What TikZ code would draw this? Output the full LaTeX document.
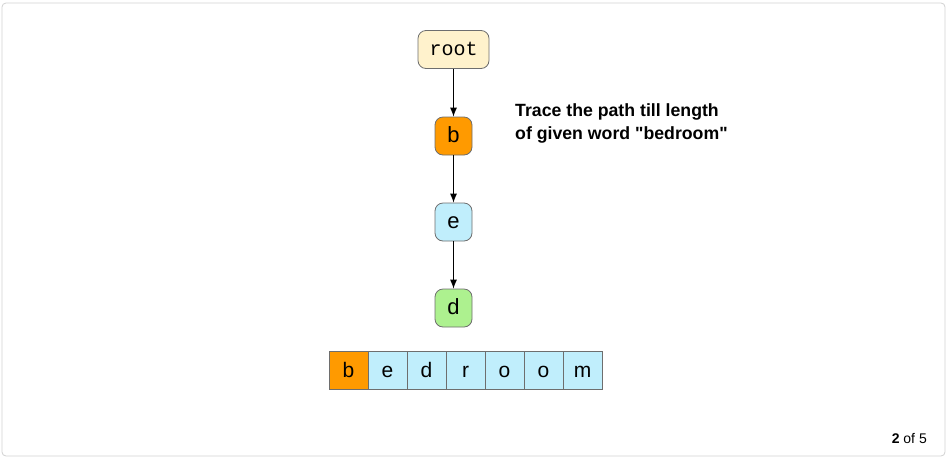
\documentclass[tikz,border=0pt]{standalone}
\usepackage{fontspec}
\setmainfont{Liberation Sans}
\setmonofont{Liberation Mono}
\usepackage{xcolor}
\usetikzlibrary{arrows.meta}

\definecolor{rootcream}{HTML}{FFF2CC}
\definecolor{hitorange}{HTML}{FF9A00}
\definecolor{triblue}{HTML}{C0EEFC}
\definecolor{trigreen}{HTML}{ADF18F}
\definecolor{edgegray}{HTML}{6E6E6E}

\tikzset{
    trienode/.style={draw=edgegray, line width=0.8pt, rounded corners=8pt,
        minimum width=37pt, minimum height=38pt, inner sep=0pt,
        text height=14pt, text depth=2pt,
        font=\fontsize{22}{26}\selectfont},
    cell/.style={draw=edgegray, line width=0.9pt, minimum width=39pt,
        minimum height=38pt, inner sep=0pt, fill=triblue,
        text height=15pt, text depth=1pt,
        font=\fontsize{21}{25}\selectfont},
    link/.style={-{Latex[length=9pt,width=7pt]}, line width=0.9pt}
}

\begin{document}
\begin{tikzpicture}[x=1pt, y=-1pt]
    \useasboundingbox (0,0) rectangle (948,459);
    % Frame
    \draw[black!18, line width=0.8pt, rounded corners=4pt] (2,3) rectangle (945,456);

    % Trie path
    \node[trienode, fill=rootcream, minimum width=71pt,
        font=\ttfamily\fontsize{20}{24}\selectfont] (root) at (453.5,49.5) {root};
    \node[trienode, fill=hitorange] (nb) at (453.5,136) {b};
    \node[trienode, fill=triblue] (ne) at (453.5,222) {e};
    \node[trienode, fill=trigreen] (nd) at (453.5,308) {d};

    \draw[link] (root) -- (nb);
    \draw[link] (nb) -- (ne);
    \draw[link] (ne) -- (nd);

    % Hint text
    \node[anchor=north west, align=left, inner sep=0pt,
        font=\bfseries\fontsize{17.7}{23.5}\selectfont] (hint) at (515,103)
        {Trace the path till length\\of given word \textquotedbl bedroom\textquotedbl};

    % Word cells
    \node[cell, fill=hitorange] (c1) at (348.5,370) {b};
    \node[cell] (c2) at (387.5,370) {e};
    \node[cell] (c3) at (426.5,370) {d};
    \node[cell] (c4) at (465.5,370) {r};
    \node[cell] (c5) at (504.5,370) {o};
    \node[cell] (c6) at (543.5,370) {o};
    \node[cell] (c7) at (582.5,370) {m};

    % Page counter
    \node[anchor=base east, inner sep=0pt, font=\fontsize{14}{16}\selectfont] (pager)
        at (927,443) {\textbf{2} of 5};
\end{tikzpicture}
\end{document}
